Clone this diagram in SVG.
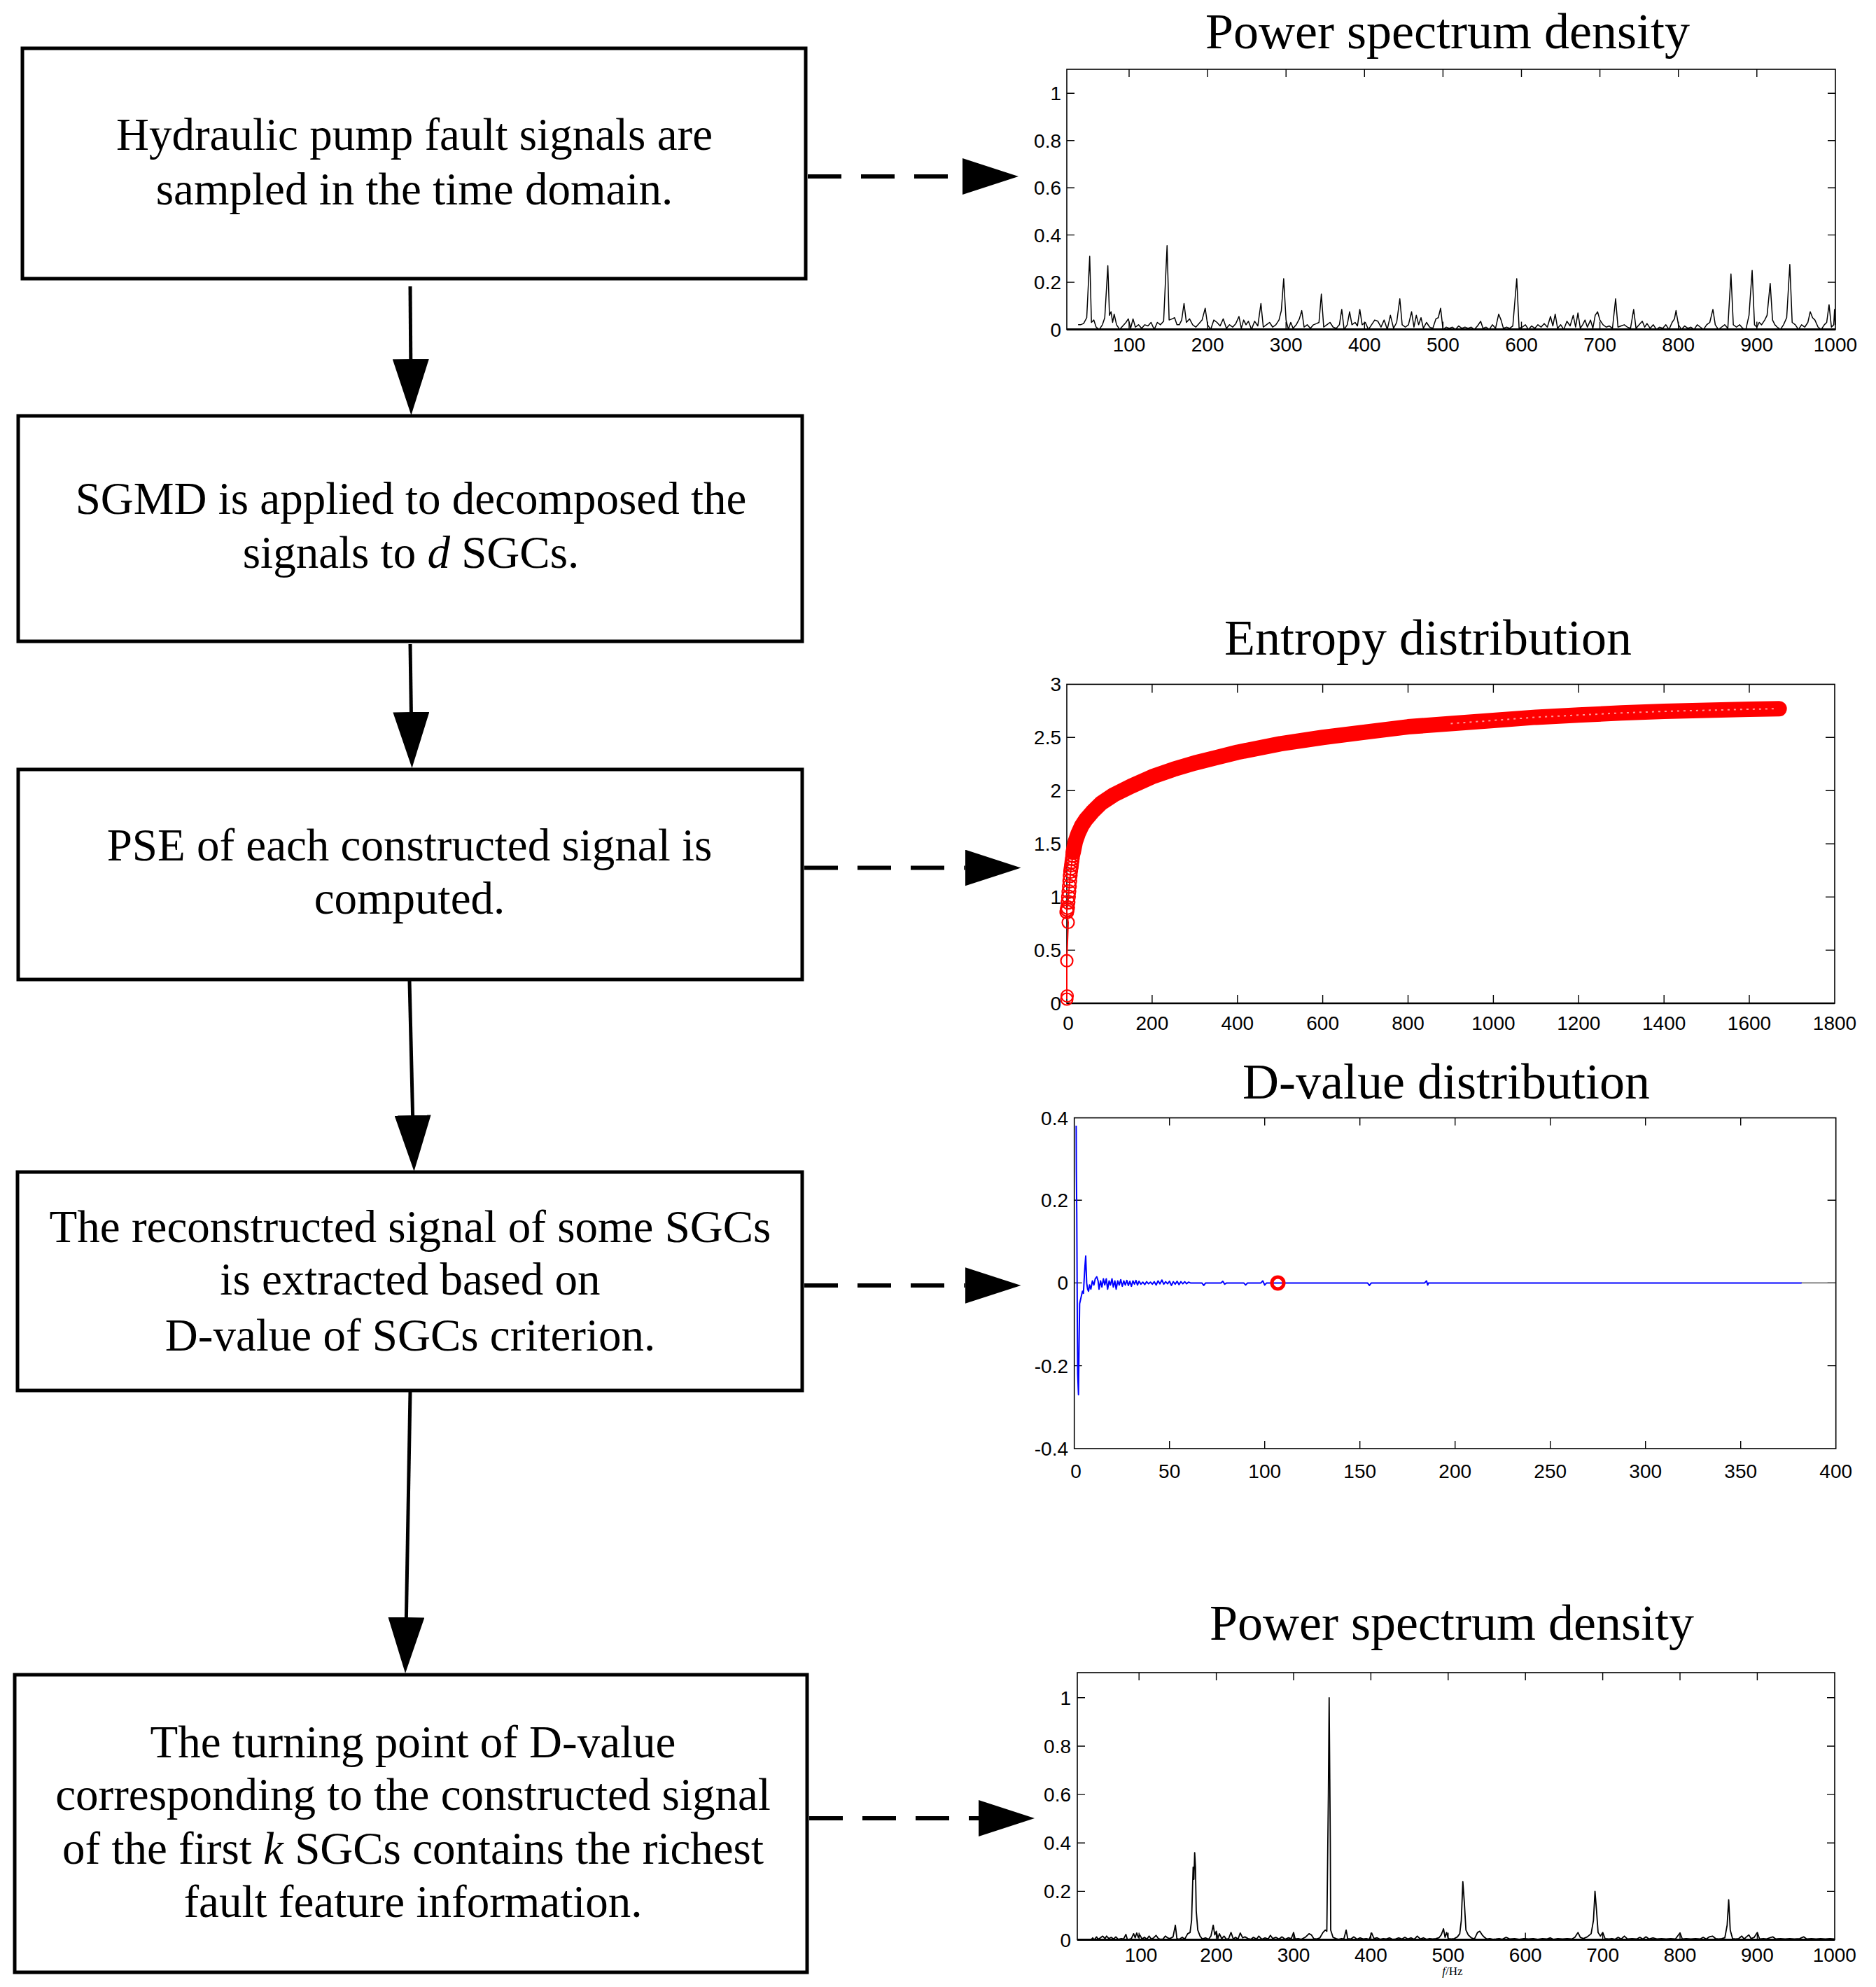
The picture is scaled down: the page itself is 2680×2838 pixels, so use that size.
<svg xmlns="http://www.w3.org/2000/svg" width="2680" height="2838" viewBox="0 0 2680 2838">
<defs>
<style>
.box{fill:#fff;stroke:#000;stroke-width:5}
.bt{font-family:"Liberation Serif","Times New Roman",serif;font-size:65px;text-anchor:middle;fill:#000}
.title{font-family:"Liberation Serif","Times New Roman",serif;font-size:72px;text-anchor:middle;fill:#000}
.tl{font-family:"Liberation Sans",Arial,sans-serif;font-size:28px;fill:#000}
.tx{text-anchor:middle}
.ty{text-anchor:end}
.axis{fill:none;stroke:#000;stroke-width:1.6}
.tick{fill:none;stroke:#000;stroke-width:1.4}
.solid{fill:none;stroke:#000;stroke-width:5;marker-end:url(#ah)}
.dash{fill:none;stroke:#000;stroke-width:6;stroke-dasharray:48 28;marker-end:url(#ah)}
.data{fill:none;vector-effect:non-scaling-stroke;stroke-linejoin:round}
</style>
<marker id="ah" markerUnits="userSpaceOnUse" markerWidth="80" markerHeight="52" refX="0" refY="26" orient="auto" viewBox="0 0 80 52">
<path d="M0,0 L80,26 L0,52 z" fill="#000"/>
</marker>
</defs>
<rect width="2680" height="2838" fill="#fff"/>

<g id="box1">
<rect class="box" x="32" y="69" width="1119" height="329"/>
<text class="bt" x="592" y="214">Hydraulic pump fault signals are</text>
<text class="bt" x="592" y="292">sampled in the time domain.</text>
</g>
<g id="box2">
<rect class="box" x="26" y="594" width="1120" height="322"/>
<text class="bt" x="587" y="734">SGMD is applied to decomposed the</text>
<text class="bt" x="587" y="811">signals to <tspan font-style="italic">d</tspan> SGCs.</text>
</g>
<g id="box3">
<rect class="box" x="26" y="1099" width="1120" height="300"/>
<text class="bt" x="585" y="1229">PSE of each constructed signal is</text>
<text class="bt" x="585" y="1305">computed.</text>
</g>
<g id="box4">
<rect class="box" x="25" y="1674" width="1121" height="312"/>
<text class="bt" x="586" y="1774">The reconstructed signal of some SGCs</text>
<text class="bt" x="586" y="1849">is extracted based on</text>
<text class="bt" x="586" y="1929">D-value of SGCs criterion.</text>
</g>
<g id="box5">
<rect class="box" x="21" y="2392" width="1132" height="425"/>
<text class="bt" x="590" y="2510">The turning point of D-value</text>
<text class="bt" x="590" y="2585">corresponding to the constructed signal</text>
<text class="bt" x="590" y="2662">of the first <tspan font-style="italic">k</tspan> SGCs contains the richest</text>
<text class="bt" x="590" y="2738">fault feature information.</text>
</g>

<g id="connectors">
<path class="solid" d="M586,409 L586.8,513"/>
<path class="solid" d="M586,920 L587.4,1017"/>
<path class="solid" d="M585,1401 L589.6,1593"/>
<path class="solid" d="M586,1988 L580.4,2310"/>
<path class="dash" d="M1154,252 L1375,252"/>
<path class="dash" d="M1149,1239.5 L1378.5,1239.5"/>
<path class="dash" d="M1149,1836 L1378.5,1836"/>
<path class="dash" d="M1156,2597 L1398,2597"/>
</g>

<g id="chart1">
<text class="title" x="2068" y="69">Power spectrum density</text>
<polyline class="data" stroke="#000" stroke-width="1.5" transform="translate(1500.9,470.6) scale(1.121,-0.3374)" points="35,20 38,20 42,25 46,50 49.8,310 52,30 55,40 58,10 62,0 66,20 69,50 72.9,270 75,60 77,75 79,30 81,65 84,20 88,0 92,15 96,30 99,45 102,5 105,45 108,10 112,20 116,5 120,20 124,15 128,30 132,0 136,30 140,20 144,35 148.4,355 151,40 155,45 158,50 161,20 164,20 167,40 170,110 173,30 177,45 181,20 185,10 189,25 193,40 197,90 200,20 204,0 208,40 212,30 216,15 220,45 224,5 228,20 232,10 236,25 240,55 243,5 246,40 249,20 252,35 256,0 260,35 264,15 268,110 271,10 275,20 279,30 283,10 287,20 291,40 294,80 297,215 300,40 303,0 306,30 309,5 313,20 317,45 320,80 323,10 327,20 331,5 335,20 339,25 342,30 345,150 348,10 352,20 356,30 360,10 364,5 368,20 371,85 374,0 378,20 381,75 384,20 388,30 391,15 394,85 397,20 401,30 405,0 409,20 413,40 417,35 421,10 425,40 429,0 433,60 437,5 441,30 445,130 448,20 452,10 456,20 460,75 463,10 466,60 469,20 472,50 475,5 479,30 483,10 487,5 491,45 494,50 497,90 500,0 504,10 508,5 512,10 516,0 520,15 524,5 528,10 532,5 536,10 540,0 544,15 548,35 551,5 555,10 559,0 563,20 567,5 571,65 574,40 577,5 581,10 585,5 589,15 594,215 597,5 601,10 605,20 609,0 613,15 617,5 621,20 625,10 629,25 633,10 637,55 640,15 643,65 646,5 650,20 654,0 658,35 662,15 666,60 669,10 672,70 675,5 678,20 681,40 684,10 688,40 691,5 694,60 697,75 700,40 704,20 708,10 712,15 716,5 720,130 723,10 727,15 731,20 735,10 739,5 743,85 746,5 750,20 754,35 757,10 760,25 764,5 768,20 772,0 776,10 780,5 784,20 788,0 792,30 795,45 797,80 800,20 804,0 808,15 812,5 816,10 820,0 824,20 828,10 832,0 836,20 840,30 844,85 847,20 851,0 855,10 859,20 863,5 867,235 870,20 874,10 878,20 882,5 886,0 890,60 894,250 897,20 900,10 903,30 906,20 910,40 913,60 917,195 920,40 923,20 926,10 930,0 934,20 938,50 942,275 945,30 949,20 953,0 957,20 961,10 965,30 968,75 971,50 974,40 978,10 982,0 986,20 989,30 992,105 995,10 998,20 999,85 1000,20"/>
<rect class="axis" x="1524" y="99" width="1098" height="371.6"/>
<line x1="1524" y1="470.6" x2="2622" y2="470.6" stroke="#000" stroke-width="3"/>
<path class="tick" d="M1613,99v11M1725.1,99v11M1837.2,99v11M1949.3,99v11M2061.4,99v11M2173.5,99v11M2285.6,99v11M2397.7,99v11M2509.8,99v11M1613,470.6v-11M1725.1,470.6v-11M1837.2,470.6v-11M1949.3,470.6v-11M2061.4,470.6v-11M2173.5,470.6v-11M2285.6,470.6v-11M2397.7,470.6v-11M2509.8,470.6v-11M1524,403.1h11M1524,335.6h11M1524,268.2h11M1524,200.7h11M1524,133.2h11M2622,403.1h-11M2622,335.6h-11M2622,268.2h-11M2622,200.7h-11M2622,133.2h-11"/>
<g class="tl ty">
<text x="1516" y="480.6">0</text>
<text x="1516" y="413.1">0.2</text>
<text x="1516" y="345.6">0.4</text>
<text x="1516" y="278.2">0.6</text>
<text x="1516" y="210.7">0.8</text>
<text x="1516" y="143.2">1</text>
</g>
<g class="tl tx">
<text x="1613" y="502">100</text>
<text x="1725.1" y="502">200</text>
<text x="1837.2" y="502">300</text>
<text x="1949.3" y="502">400</text>
<text x="2061.4" y="502">500</text>
<text x="2173.5" y="502">600</text>
<text x="2285.6" y="502">700</text>
<text x="2397.7" y="502">800</text>
<text x="2509.8" y="502">900</text>
<text x="2621.9" y="502">1000</text>
</g>
</g>

<g id="chart2">
<text class="title" x="2040" y="935">Entropy distribution</text>
<rect class="axis" x="1524" y="977.4" width="1097" height="455.6"/>
<line x1="1524" y1="1433" x2="2621" y2="1433" stroke="#000" stroke-width="2.4"/>
<path class="tick" d="M1645.9,977.4v12M1767.8,977.4v12M1889.6,977.4v12M2011.5,977.4v12M2133.4,977.4v12M2255.3,977.4v12M2377.2,977.4v12M2499,977.4v12M1645.9,1433v-12M1767.8,1433v-12M1889.6,1433v-12M2011.5,1433v-12M2133.4,1433v-12M2255.3,1433v-12M2377.2,1433v-12M2499,1433v-12M2621,1357.1h-13M2621,1281.1h-13M2621,1205.2h-13M2621,1129.2h-13M2621,1053.3h-13M1524,1357.1h12M1524,1281.1h12M1524,1205.2h12M1524,1129.2h12M1524,1053.3h12"/>
<path d="M1524,1427 L1524,1372 L1526,1317.5 L1524,1302.4 L1526.4,1281.1 L1528.9,1250.7 L1532.5,1221.9" fill="none" stroke="#f00" stroke-width="2"/>
<g fill="none" stroke="#f00" stroke-width="2.2">
<circle cx="1524" cy="1427" r="8.5"/>
<circle cx="1524.5" cy="1422.5" r="8.5"/>
<circle cx="1524" cy="1372.2" r="8.5"/>
<circle cx="1526" cy="1317.5" r="8.5"/>
<circle cx="1524" cy="1302.4" r="9.5"/>
<circle cx="1524.6" cy="1299.3" r="9.5"/>
<circle cx="1525.2" cy="1296.3" r="9.5"/>
<circle cx="1525.8" cy="1288.7" r="9.5"/>
<circle cx="1526.4" cy="1281.1" r="9.5"/>
<circle cx="1527" cy="1273.5" r="9.5"/>
<circle cx="1527.7" cy="1265.9" r="9.5"/>
<circle cx="1528.3" cy="1258.3" r="9.5"/>
<circle cx="1528.9" cy="1250.7" r="9.5"/>
<circle cx="1529.5" cy="1244.6" r="9.5"/>
<circle cx="1530.1" cy="1240.1" r="9.5"/>
<circle cx="1530.7" cy="1235.5" r="9.5"/>
<circle cx="1531.3" cy="1231" r="9.5"/>
<circle cx="1531.9" cy="1226.4" r="9.5"/>
<circle cx="1532.5" cy="1221.9" r="9.5"/>
</g>
<polyline class="data" stroke="#f00" stroke-width="22" stroke-linecap="round" transform="translate(1524,1433) scale(0.6094,-0.1519)" points="15,1420 20,1520 27,1600 35,1670 45,1730 60,1800 80,1880 110,1960 150,2040 200,2130 250,2200 300,2260 350,2310 400,2360 500,2440 600,2500 700,2550 800,2600 900,2630 1000,2660 1100,2690 1200,2710 1300,2730 1400,2745 1500,2755 1600,2765 1670,2770"/>
<polyline class="data" stroke="#ff9a9a" stroke-width="2" stroke-dasharray="3 6" transform="translate(1524,1433) scale(0.6094,-0.1519)" points="900,2630 1000,2660 1100,2690 1200,2710 1300,2730 1400,2745 1500,2755 1600,2765 1662,2770"/>
<g class="tl ty">
<text x="1516" y="1443">0</text>
<text x="1516" y="1367.1">0.5</text>
<text x="1516" y="1291.1">1</text>
<text x="1516" y="1215.2">1.5</text>
<text x="1516" y="1139.2">2</text>
<text x="1516" y="1063.3">2.5</text>
<text x="1516" y="987.3">3</text>
</g>
<g class="tl tx">
<text x="1526" y="1471">0</text>
<text x="1645.9" y="1471">200</text>
<text x="1767.8" y="1471">400</text>
<text x="1889.6" y="1471">600</text>
<text x="2011.5" y="1471">800</text>
<text x="2133.4" y="1471">1000</text>
<text x="2255.3" y="1471">1200</text>
<text x="2377.2" y="1471">1400</text>
<text x="2499" y="1471">1600</text>
<text x="2621" y="1471">1800</text>
</g>
</g>

<g id="chart3">
<text class="title" x="2066" y="1569">D-value distribution</text>
<rect class="axis" x="1534.7" y="1596.6" width="1088" height="472.4"/>
<path class="tick" d="M1670.7,1596.6v11M1806.7,1596.6v11M1942.7,1596.6v11M2078.7,1596.6v11M2214.7,1596.6v11M2350.7,1596.6v11M2486.7,1596.6v11M1670.7,2069v-11M1806.7,2069v-11M1942.7,2069v-11M2078.7,2069v-11M2214.7,2069v-11M2350.7,2069v-11M2486.7,2069v-11M2622.7,1714.2h-12M2622.7,1832.4h-12M2622.7,1950.6h-12M1534.7,1714.2h11M1534.7,1832.4h11M1534.7,1950.6h11"/>
<line x1="2573" y1="1832.4" x2="2622.7" y2="1832.4" stroke="#333" stroke-width="1.2"/>
<polyline class="data" stroke="#00f" stroke-width="2" transform="translate(1534.7,1832.4) scale(2.72,-0.591)" points="1,380 1.1,270 1.3,170 1.6,-100 1.8,-220 2.2,-270 2.5,-150 2.8,-50 3.3,-40 3.8,-30 4.3,-20 4.8,-25 5.2,10 5.6,40 6,65 6.5,0 7,-15 7.5,-20 8,-5 8.7,-15 9.5,5 10.3,-5 11,10 11.8,15 12.5,5 13,-15 13.8,5 14.5,-10 15.3,10 16,-5 16.8,10 17.5,-15 18.3,5 19,-5 19.8,10 20.5,-10 21.3,5 22,-15 22.8,5 23.6,-5 24.4,8 25.2,-8 26,5 26.8,-5 27.6,6 28.4,-6 29.2,4 30,-8 30.8,5 31.6,-3 32.4,6 33.2,-5 34,4 35,-3 36,2 37,-4 38,3 39,-2 40,2 41,-3 42,3 43,-5 44,5 45,-2 46,7 47,-3 48,3 49,-2 50,4 51,-6 52,3 53,-3 54,4 55,-4 56,3 57,-2 58,3 59,-2 60,2 61,0 67,0 68,-6 69,0 77,0 78,4 79,-3 80,0 89,0 90,-5 91,0 98,0 99,5 100,-5 101,0 154,0 155,-6 156,0 184,0 185,5 185.6,-5 186,0 382,0"/>
<circle cx="1825.5" cy="1832.4" r="8.5" fill="none" stroke="#f00" stroke-width="5"/>
<g class="tl ty">
<text x="1526" y="1607">0.4</text>
<text x="1526" y="1724.2">0.2</text>
<text x="1526" y="1842.4">0</text>
<text x="1526" y="1960.6">-0.2</text>
<text x="1526" y="2079">-0.4</text>
</g>
<g class="tl tx">
<text x="1537" y="2111">0</text>
<text x="1670.7" y="2111">50</text>
<text x="1806.7" y="2111">100</text>
<text x="1942.7" y="2111">150</text>
<text x="2078.7" y="2111">200</text>
<text x="2214.7" y="2111">250</text>
<text x="2350.7" y="2111">300</text>
<text x="2486.7" y="2111">350</text>
<text x="2622.7" y="2111">400</text>
</g>
</g>

<g id="chart4">
<text class="title" x="2074" y="2342">Power spectrum density</text>
<polyline class="data" stroke="#000" stroke-width="1.8" transform="translate(1516.8,2770.5) scale(1.104,-0.3457)" points="38,0 40,8 42,0 45,12 47,2 50,8 53,15 56,5 58,15 61,5 64,10 67,3 70,12 73,2 77,5 80,3 83,22 85,0 90,5 93,25 95,8 97,28 99,10 101,20 104,3 107,10 110,2 113,15 116,3 119,8 122,18 125,5 128,2 131,3 134,15 137,8 140,5 144,12 147,60 149,5 152,2 156,10 159,2 163,25 166,30 168,80 170,300 171,250 172,360 173,300 174,120 176,40 179,15 182,3 186,8 190,2 193,15 196,60 198,20 200,35 202,5 204,25 207,5 210,15 213,2 216,5 219,30 222,3 225,10 228,2 231,28 234,8 237,12 241,5 245,2 248,10 252,3 255,15 259,2 263,8 267,3 270,18 273,5 277,10 281,3 285,12 289,2 293,8 297,5 300,30 302,3 306,5 310,2 315,10 320,25 323,20 326,5 330,3 334,8 338,30 341,40 343,35 345,600 346,1000 347.5,400 348,40 351,10 355,5 358,2 362,5 365,3 368,40 370,5 374,3 378,12 382,2 386,8 390,3 394,5 398,2 401,28 404,5 408,8 412,2 416,5 420,3 424,8 428,2 432,3 436,8 440,3 444,10 448,3 452,8 456,2 460,15 464,3 468,8 472,2 476,5 480,3 484,5 488,8 491,20 494,45 496,10 498,30 500,5 504,3 508,5 512,12 515,25 517,80 519,240 521,150 523,40 526,20 530,8 534,3 538,30 541,35 544,20 547,10 550,3 554,5 558,2 562,3 566,5 570,2 575,10 580,3 586,5 592,2 598,5 604,3 610,5 616,2 622,5 628,3 632,8 636,2 642,5 648,3 654,5 660,3 664,10 668,30 671,10 675,5 680,12 685,25 688,80 690,200 692,120 694,30 697,15 700,30 703,5 708,3 712,5 716,2 720,10 724,3 728,15 732,3 738,5 744,3 748,10 752,3 756,12 760,3 765,8 770,3 776,5 782,3 788,5 794,3 800,28 803,3 808,5 814,3 820,5 826,3 830,10 834,3 838,12 842,15 846,5 850,3 854,5 858,8 861,60 863,165 865,40 868,5 872,3 876,5 880,15 883,3 886,12 889,20 892,5 896,10 900,30 903,3 908,5 912,3 916,8 920,12 924,3 930,5 936,3 942,5 948,3 955,5 960,12 964,3 970,5 976,3 982,5 988,3 994,5 1000,3"/>
<rect class="axis" x="1539" y="2389" width="1082" height="381.5"/>
<line x1="1539" y1="2770.5" x2="2621" y2="2770.5" stroke="#000" stroke-width="3"/>
<path class="tick" d="M1627.2,2389v11M1737.6,2389v11M1848,2389v11M1958.4,2389v11M2068.8,2389v11M2179.2,2389v11M2289.6,2389v11M2400,2389v11M2510.4,2389v11M1627.2,2770.5v-10M1737.6,2770.5v-10M1848,2770.5v-10M1958.4,2770.5v-10M2068.8,2770.5v-10M2179.2,2770.5v-10M2289.6,2770.5v-10M2400,2770.5v-10M2510.4,2770.5v-10M1539,2701.4h11M1539,2632.2h11M1539,2563.1h11M1539,2494h11M1539,2424.8h11M2621,2701.4h-11M2621,2632.2h-11M2621,2563.1h-11M2621,2494h-11M2621,2424.8h-11"/>
<g class="tl ty">
<text x="1530" y="2780.5">0</text>
<text x="1530" y="2711.4">0.2</text>
<text x="1530" y="2642.2">0.4</text>
<text x="1530" y="2573.1">0.6</text>
<text x="1530" y="2504">0.8</text>
<text x="1530" y="2434.8">1</text>
</g>
<g class="tl tx">
<text x="1630" y="2802">100</text>
<text x="1737.6" y="2802">200</text>
<text x="1848" y="2802">300</text>
<text x="1958.4" y="2802">400</text>
<text x="2068.8" y="2802">500</text>
<text x="2179.2" y="2802">600</text>
<text x="2289.6" y="2802">700</text>
<text x="2400" y="2802">800</text>
<text x="2510.4" y="2802">900</text>
<text x="2620.8" y="2802">1000</text>
</g>
<text x="2075" y="2821" font-family="Liberation Serif, serif" font-size="17" text-anchor="middle"><tspan font-style="italic">f</tspan>/Hz</text>
</g>
</svg>
